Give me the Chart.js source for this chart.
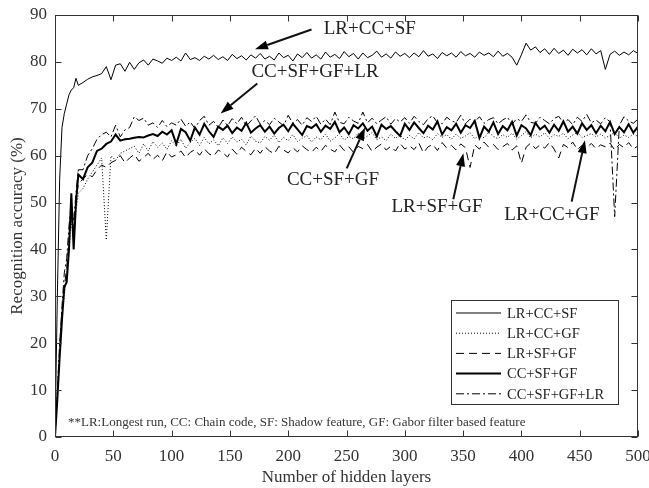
<!DOCTYPE html>
<html>
<head>
<meta charset="utf-8">
<script src="https://cdn.jsdelivr.net/npm/chart.js@4.4.1/dist/chart.umd.min.js"></script>
<style>
html, body { margin: 0; padding: 0; background: #fff; }
#wrap { width: 649px; height: 488px; }
</style>
</head>
<body>
<div id="wrap"><canvas id="accChart" width="649" height="488"></canvas></div>
<script>
// ===== Data =====
const layers = [0, 2, 4, 6, 8, 10, 12, 14, 16, 18, 20,
    24, 28, 32, 36, 40, 44, 48, 52, 56, 60,
    64, 68, 72, 76, 80, 84, 88, 92, 96, 100,
    104, 108, 112, 116, 120, 124, 128, 132, 136, 140,
    144, 148, 152, 156, 160, 164, 168, 172, 176, 180,
    184, 188, 192, 196, 200, 204, 208, 212, 216, 220,
    224, 228, 232, 236, 240, 244, 248, 252, 256, 260,
    264, 268, 272, 276, 280, 284, 288, 292, 296, 300,
    304, 308, 312, 316, 320, 324, 328, 332, 336, 340,
    344, 348, 352, 356, 360, 364, 368, 372, 376, 380,
    384, 388, 392, 396, 400, 404, 408, 412, 416, 420,
    424, 428, 432, 436, 440, 444, 448, 452, 456, 460,
    464, 468, 472, 476, 480, 484, 488, 492, 496, 500];

const lrCcSf = [0, 30, 55, 66, 69, 71, 73, 74, 74.5, 76.5, 75,
    75.6, 76.3, 76.8, 77.1, 77.5, 79, 76.2, 79.3, 79.6, 78,
    79.9, 78.4, 79.8, 80.4, 79.3, 80.6, 80.2, 79.7, 80.8, 80.3,
    81, 80.2, 81.9, 80.5, 80.9, 80.3, 81.2, 80.6, 81.4, 80.5,
    81.1, 80.3, 81.6, 80.7, 81.3, 80.4, 81.5, 80.8, 81.8, 80.6,
    81.2, 80.4, 81.9, 80.9, 81.4, 80.2, 81.7, 80.9, 82.0, 80.8,
    81.5, 80.6, 82.1, 81.0, 81.6, 80.7, 82.2, 81.1, 81.8, 80.6,
    81.9, 80.9, 81.4, 82.3, 81.0, 81.7, 80.8, 82.1, 81.2, 81.8,
    80.9, 81.9, 81.1, 82.4, 81.2, 81.7, 80.7, 82.0, 81.3, 81.9,
    81.0, 82.2, 81.3, 81.8, 81.0, 82.1, 81.4, 81.9, 81.1, 82.3,
    81.2, 81.8, 81.0, 79.3, 81.5, 84.0, 82.5, 83.2, 82.0, 82.8,
    81.6, 82.9, 81.8, 82.5, 81.4, 82.7, 81.9, 82.6, 81.5, 82.8,
    81.7, 82.4, 78.4, 81.6, 82.3, 81.4, 82.1, 81.5, 82.4, 81.8];

const lrCcGf = [0, 9, 18, 26, 30, 35, 40, 46, 42, 48, 52,
    53, 55, 56.5, 58, 59.5, 42, 60, 59, 60.5, 61,
    61.5, 62, 60.5, 62.5, 61, 63, 61.8, 62.7, 61.3, 63.2,
    62, 63.5, 61.6, 62.8, 63.7, 62.2, 63.9, 62.5, 63.4, 62.1,
    63.8, 62.6, 64, 62.9, 63.5, 62.3, 64.2, 63.1, 62.7, 64.1,
    63.3, 64.4, 62.8, 63.9, 63.2, 64.5, 63, 63.7, 64.3, 62.9,
    64, 63.4, 64.6, 63.1, 63.8, 64.7, 63.3, 64.1, 63.6, 64.8,
    63.5, 64.2, 64.9, 63.4, 64, 63.2, 64.6, 63.7, 64.4, 63.3,
    64.3, 63.6, 64.9, 63.8, 64.1, 63.4, 64.7, 63.9, 64.5, 63.5,
    64.6, 63.7, 64.2, 64.9, 63.6, 64.4, 63.8, 65, 64.1, 63.6,
    64.5, 63.9, 64.8, 63.5, 64.3, 65.1, 63.8, 64.6, 64, 64.9,
    63.7, 64.5, 64.1, 64.8, 63.6, 64.4, 65, 63.9, 64.3, 64.7,
    64, 64.6, 63.8, 64.3, 65, 63.7, 64.4, 63.9, 64.6, 64.1];

const lrSfGf = [0, 9, 18, 27, 32, 36, 42, 47, 44, 50, 54,
    55, 56, 55.5, 57, 58, 57.5, 58.5, 59, 60, 58.5,
    59.5, 60.3, 58.8, 59.6, 60.5, 59.2, 60.1, 58.9, 60.8, 59.7,
    60.2, 61, 59.6, 60.7, 61.3, 60.1, 61.5, 60.4, 59.9, 61.2,
    60.6, 59.7, 61.4, 60.3, 61.8, 60.9, 60.2, 61.6, 60.5, 61.9,
    61, 60.4, 62, 61.2, 60.6, 61.7, 60.8, 62.1, 61.3, 60.7,
    61.8, 60.9, 62.2, 61.4, 60.8, 62.3, 61.1, 61.9, 60.7, 62,
    61.5, 62.4, 60.9, 61.8, 62.5, 61.2, 62, 61, 62.6, 61.4,
    62.1, 61.3, 62.7, 60.6, 61.9, 62.4, 61.1, 62.8, 61.6, 62.2,
    61.2, 62.5, 61.7, 57.5, 62.3, 61.4, 62.9, 61.8, 62.4, 61.3,
    61.9, 62.6, 61.2, 62.1, 58.4, 61.8, 62.7, 61.5, 62.3, 61.6,
    62.8, 61.4, 59.5, 62.4, 61.7, 62.9, 61.3, 62.2, 61.8, 62.6,
    61.5, 62.3, 61.9, 62.7, 61.2, 62.4, 61.7, 62.8, 61.4, 62.1];

const ccSfGf = [0, 8, 17, 25, 32, 33, 40, 52, 40, 50, 56,
    55, 57.5, 58.5, 61, 61.5, 62.5, 63, 64.5, 63.2, 63.5,
    63.6, 63.8, 64, 63.9, 64.3, 64.6, 64.2, 65.1, 64.5, 65.4,
    62.5, 65.7, 65, 63.2, 66, 64.5, 66.8, 65.2, 64, 66.2,
    65.5, 66.4, 64.8, 66, 65.3, 67, 64.9, 65.8, 66.5, 65.1,
    66.2, 64.7, 65.9, 66.6, 65.2, 66.8, 65.6, 64.4, 66.3, 65.9,
    66.7, 65.1, 66.4, 65.7, 67.2, 65, 66, 64.6, 66.5, 65.8,
    66.9, 65.3, 66.2, 64.1, 66.6, 65.7, 66.3, 65.2, 64.2, 66.8,
    65.5, 67.1, 65.9, 64.8, 66.4, 65.6, 67.3, 64.5, 66.1, 65.4,
    66.8, 64.9, 66.5, 65.9, 67.4, 63.8, 66.2, 65.1, 67.1, 64.6,
    66.3, 65.4, 67.2, 64.3, 66.5, 65.8, 64.4, 67, 65.6, 66.4,
    64.9, 66.6, 65.3, 67.3, 65.1, 66.2, 64.7, 66.9, 65.5, 66.5,
    64.8, 66.4, 65.2, 67.2, 64.6, 66.1, 65, 66.7, 64.9, 66.2];

const ccSfGfLr = [0, 10, 20, 28, 35, 38, 45, 50, 46, 52, 57,
    57, 60, 61.5, 63.5, 64.5, 65, 64, 66.5, 64, 65.5,
    66, 68.3, 67.5, 68, 66.5, 67, 66, 67.5, 66.2, 67,
    66.5, 67.8, 66.3, 67.2, 65.8, 67.5, 68.4, 66.5, 67.3, 66,
    67.6, 66.4, 67.9, 66.8, 68.2, 66.3, 67.4, 68.5, 66.7, 67.5,
    66.6, 68, 67.2, 66.4, 68.6, 66.9, 67.7, 66.5, 68.1, 67.3,
    68.4, 66.7, 67.8, 66.6, 69.3, 67.1, 66.8, 68.2, 67.4, 66.9,
    69.3, 67, 68, 66.8, 67.6, 68.3, 66.7, 67.9, 67.2, 68.1,
    66.9, 68.4, 67.3, 66.6, 67.9, 68.5, 67, 66.8, 68.2, 67.4,
    67.1, 68.6, 66.8, 67.8, 67.2, 68.3, 66.9, 67.7, 68.1, 66.8,
    67.6, 68.2, 66.7, 67.9, 67.3, 68.7, 67.1, 66.9, 68.2, 67.5,
    66.8, 67.9, 68.4, 67, 67.7, 66.6, 68.2, 67.3, 68.8, 67,
    67.6, 66.8, 68.1, 67.2, 47, 66.5, 68.3, 67.4, 66.9, 67.8];

const xTicks = [0, 50, 100, 150, 200, 250, 300, 350, 400, 450, 500];
const yTicks = [0, 10, 20, 30, 40, 50, 60, 70, 80, 90];

const seriesNames = ['LR+CC+SF', 'LR+CC+GF', 'LR+SF+GF', 'CC+SF+GF', 'CC+SF+GF+LR'];

// callouts: label anchor, arrow start, arrow tip (data coordinates)
const callouts = [
    { text: 'LR+CC+SF', at: [270, 87], from: [220, 86.9], tip: [171.5, 82.7] },
    { text: 'CC+SF+GF+LR', at: [223, 77.8], from: [173.5, 75.4], tip: [142, 69] },
    { text: 'CC+SF+GF', at: [238.4, 54.8], from: [250.2, 57.3], tip: [265.9, 66] },
    { text: 'LR+SF+GF', at: [327.6, 49.1], from: [341.6, 50.7], tip: [350.2, 60.5] },
    { text: 'LR+CC+GF', at: [426.2, 47.3], from: [443.1, 50.2], tip: [454.5, 63.3] }
];

const footnote = '**LR:Longest run, CC: Chain code, SF: Shadow feature, GF: Gabor filter based feature';

const SERIF = '"Liberation Serif", "Times New Roman", serif';
const INK = '#333333';

function pts(vals) {
    return vals.map((v, i) => ({ x: layers[i], y: v }));
}

// ===== Frame, inward ticks, callouts, legend =====
const decorPlugin = {
    id: 'decor',
    afterDatasetsDraw(chart) {
        const { ctx, chartArea: a, scales: { x, y } } = chart;
        const L = Math.round(a.left) + 0.5, R = Math.round(a.right) - 0.5;
        const T = Math.round(a.top) + 0.5, B = Math.round(a.bottom) - 0.5;
        ctx.save();
        ctx.strokeStyle = INK;
        ctx.lineWidth = 1;
        ctx.setLineDash([]);
        ctx.strokeRect(L, T, R - L, B - T);

        // inward ticks
        ctx.beginPath();
        xTicks.forEach(v => {
            const px = Math.round(x.getPixelForValue(v)) + 0.5;
            ctx.moveTo(px, B); ctx.lineTo(px, B - 6);
            ctx.moveTo(px, T); ctx.lineTo(px, T + 6);
        });
        yTicks.forEach(v => {
            const py = Math.round(y.getPixelForValue(v)) + 0.5;
            ctx.moveTo(L, py); ctx.lineTo(L + 6, py);
            ctx.moveTo(R, py); ctx.lineTo(R - 6, py);
        });
        ctx.stroke();

        // callouts
        ctx.strokeStyle = '#111';
        ctx.font = '19px ' + SERIF;
        ctx.textAlign = 'center';
        ctx.textBaseline = 'middle';
        callouts.forEach(c => {
            ctx.fillStyle = '#222';
            ctx.fillText(c.text, x.getPixelForValue(c.at[0]), y.getPixelForValue(c.at[1]));
            const x0 = x.getPixelForValue(c.from[0]), y0 = y.getPixelForValue(c.from[1]);
            const x1 = x.getPixelForValue(c.tip[0]), y1 = y.getPixelForValue(c.tip[1]);
            const ang = Math.atan2(y1 - y0, x1 - x0);
            const headLen = 13, headW = 4.5;
            const bx = x1 - headLen * Math.cos(ang), by = y1 - headLen * Math.sin(ang);
            ctx.lineWidth = 2;
            ctx.beginPath();
            ctx.moveTo(x0, y0); ctx.lineTo(bx, by);
            ctx.stroke();
            ctx.fillStyle = '#000';
            ctx.beginPath();
            ctx.moveTo(x1, y1);
            ctx.lineTo(bx + headW * Math.sin(ang), by - headW * Math.cos(ang));
            ctx.lineTo(bx - headW * Math.sin(ang), by + headW * Math.cos(ang));
            ctx.closePath();
            ctx.fill();
        });

        // footnote
        ctx.font = '13px ' + SERIF;
        ctx.fillStyle = INK;
        ctx.textAlign = 'left';
        ctx.fillText(footnote, a.left + 13, a.bottom - 14);

        // legend box
        const lx = a.right - 187, ly = a.bottom - 137, lw = 167, lh = 104;
        ctx.fillStyle = '#fff';
        ctx.fillRect(lx, ly, lw, lh);
        ctx.strokeStyle = INK;
        ctx.lineWidth = 1;
        ctx.strokeRect(Math.round(lx) + 0.5, Math.round(ly) + 0.5, lw, lh);
        ctx.font = '14.5px ' + SERIF;
        chart.data.datasets.forEach((ds, i) => {
            const ry = ly + 13 + i * 20.2;
            ctx.strokeStyle = '#000';
            ctx.lineWidth = ds.borderWidth;
            ctx.setLineDash(ds.borderDash || []);
            ctx.beginPath();
            ctx.moveTo(lx + 5, ry); ctx.lineTo(lx + 50, ry);
            ctx.stroke();
            ctx.setLineDash([]);
            ctx.fillStyle = '#222';
            ctx.fillText(ds.label, lx + 56, ry + 1);
        });
        ctx.restore();
    }
};

function initChart() {
    const ctx = document.getElementById('accChart');
    const base = { pointRadius: 0, tension: 0, fill: false, borderColor: '#000' };

    const data = {
        datasets: [
            { ...base, label: seriesNames[0], data: pts(lrCcSf), borderWidth: 1 },
            { ...base, label: seriesNames[1], data: pts(lrCcGf), borderWidth: 1, borderDash: [1, 2] },
            { ...base, label: seriesNames[2], data: pts(lrSfGf), borderWidth: 1, borderDash: [8, 5] },
            { ...base, label: seriesNames[3], data: pts(ccSfGf), borderWidth: 2 },
            { ...base, label: seriesNames[4], data: pts(ccSfGfLr), borderWidth: 1, borderDash: [8, 3, 2, 3] }
        ]
    };

    const config = {
        type: 'line',
        data: data,
        options: {
            responsive: false,
            animation: false,
            // axes box: left 55, top 15, right 638, bottom 437
            layout: { padding: { top: 15, right: 11, left: 0, bottom: 0 } },
            plugins: { legend: { display: false }, tooltip: { enabled: false } },
            scales: {
                x: {
                    type: 'linear',
                    min: 0, max: 500,
                    afterFit: s => { s.height = 51; s.paddingLeft = 0; s.paddingRight = 0; },
                    grid: { display: false, drawTicks: false },
                    border: { display: false },
                    ticks: {
                        stepSize: 50, padding: 9, color: INK, maxRotation: 0,
                        font: { family: SERIF, size: 17 }
                    },
                    title: {
                        display: true, text: 'Number of hidden layers', color: INK,
                        font: { family: SERIF, size: 17 }, padding: { top: 0, bottom: 0 }
                    }
                },
                y: {
                    min: 0, max: 90,
                    afterFit: s => { s.width = 55; s.paddingTop = 0; s.paddingBottom = 0; },
                    grid: { display: false, drawTicks: false },
                    border: { display: false },
                    ticks: {
                        stepSize: 10, padding: 8, color: INK,
                        font: { family: SERIF, size: 17 }
                    },
                    title: {
                        display: true, text: 'Recognition accuracy (%)', color: INK,
                        font: { family: SERIF, size: 17 }, padding: { top: 7, bottom: 0 }
                    }
                }
            }
        },
        plugins: [decorPlugin]
    };

    new Chart(ctx, config);
}

document.addEventListener('DOMContentLoaded', initChart);
</script>
</body>
</html>
